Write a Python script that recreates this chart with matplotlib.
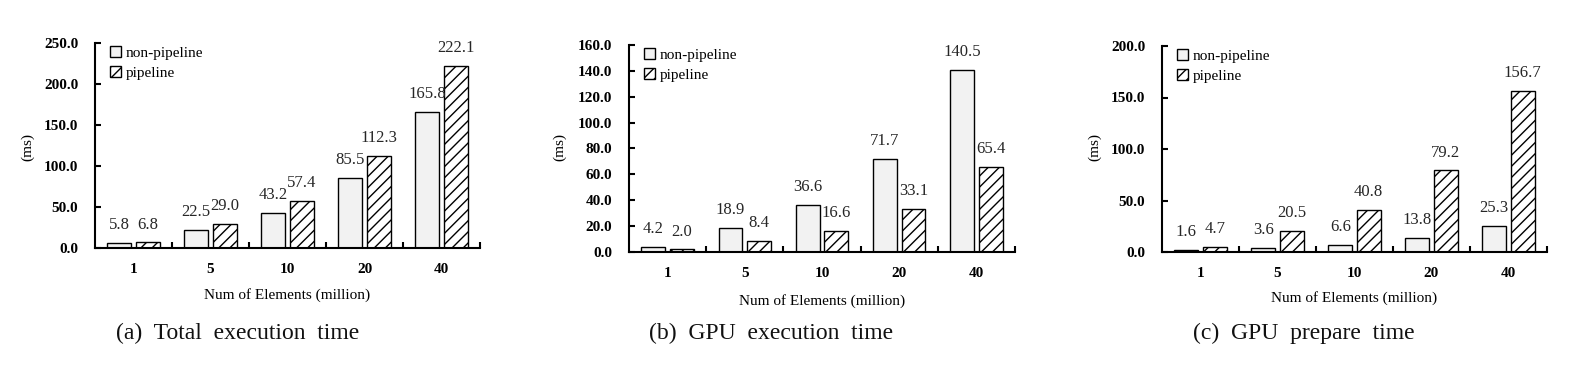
import matplotlib
matplotlib.use("Agg")
import matplotlib.pyplot as plt
import numpy as np

categories = ["1", "5", "10", "20", "40"]
series_names = ["non-pipeline", "pipeline"]

total_nonpipe = [5.8, 22.5, 43.2, 85.5, 165.8]
total_pipe = [6.8, 29.0, 57.4, 112.3, 222.1]
gpu_exec_nonpipe = [4.2, 18.9, 36.6, 71.7, 140.5]
gpu_exec_pipe = [2.0, 8.4, 16.6, 33.1, 65.4]
gpu_prep_nonpipe = [1.6, 3.6, 6.6, 13.8, 25.3]
gpu_prep_pipe = [4.7, 20.5, 40.8, 79.2, 156.7]

ylims = [250, 160, 200]
ysteps = [50, 20, 50]
subtitles = ["(a)  Total  execution  time", "(b)  GPU  execution  time", "(c)  GPU  prepare  time"]
xlabel = "Num of Elements (million)"
ylabel = "(ms)"

W, H = 1571, 369
fig = plt.figure(figsize=(W / 100, H / 100), dpi=100)
SERIF = "Liberation Serif"
plt.rcParams['hatch.linewidth'] = 1.0

# axes in pixel coords: left, right, top, bottom
boxes = [(95, 480, 43, 248), (629, 1015, 45, 252), (1162, 1547, 46, 252)]
ylabel_x = [28, 560, 1095]
sub_x = [238, 771, 1304]
xlab_y = [295, 301, 298]
data = [(total_nonpipe, total_pipe), (gpu_exec_nonpipe, gpu_exec_pipe), (gpu_prep_nonpipe, gpu_prep_pipe)]

for i in range(3):
    l, r, t, b = boxes[i]
    ax = fig.add_axes([l / W, (H - b) / H, (r - l) / W, (b - t) / H])
    x = np.arange(len(categories))
    w = 0.31
    off = 0.185
    nonp, pipe = data[i]
    b1 = ax.bar(x - off, nonp, w, color="#f2f2f2", edgecolor="black", linewidth=1.0, label=series_names[0])
    b2 = ax.bar(x + off, pipe, w, color="white", edgecolor="black", hatch="///", linewidth=1.0, label=series_names[1])
    for bars, vals in ((b1, nonp), (b2, pipe)):
        for rect, v in zip(bars, vals):
            ax.annotate(f"{v:.1f}", (rect.get_x() + rect.get_width() / 2, v),
                        xytext=(0, 10), textcoords="offset points",
                        ha="center", va="baseline", fontsize=12, family=SERIF, color="#262626")
    ax.set_xlim(-0.5, len(categories) - 0.5)
    ax.set_ylim(0, ylims[i])
    ax.set_yticks(np.arange(0, ylims[i] + 0.01, ysteps[i]))
    ax.set_yticklabels([f"{v:.1f}" for v in np.arange(0, ylims[i] + 0.01, ysteps[i])],
                       fontsize=11, fontweight="bold", family=SERIF)
    ax.set_xticks(np.arange(0.5, len(categories), 1.0))
    ax.set_xticklabels([])
    ax.set_xticks(x, minor=True)
    ax.set_xticklabels(categories, minor=True, fontsize=11, fontweight="bold", family=SERIF)
    ax.tick_params(axis="x", which="minor", length=0, pad=11)
    ax.tick_params(axis="x", which="major", direction="in", length=4, width=1.5)
    ax.tick_params(axis="y", direction="in", length=4, width=1.5, pad=12)
    for s in ("top", "right"):
        ax.spines[s].set_visible(False)
    for s in ("left", "bottom"):
        ax.spines[s].set_linewidth(1.5)
    ax.legend(loc="upper left", bbox_to_anchor=(0.022, 1.015), frameon=False,
              prop={"family": SERIF, "size": 11}, handlelength=0.75, handleheight=0.75,
              handletextpad=0.3, labelspacing=0.4, borderaxespad=0.0)
    fig.text((l + r) / 2 / W, 1 - xlab_y[i] / H, xlabel, ha="center", va="center",
             fontsize=11, family=SERIF)
    fig.text(ylabel_x[i] / W, 1 - 147 / H, ylabel, rotation=90, ha="center", va="center",
             fontsize=11, family=SERIF)
    fig.text(sub_x[i] / W, 1 - 333 / H, subtitles[i], ha="center", va="center",
             fontsize=17, family=SERIF, color="#111111")

fig.savefig("out.png", dpi=100)
